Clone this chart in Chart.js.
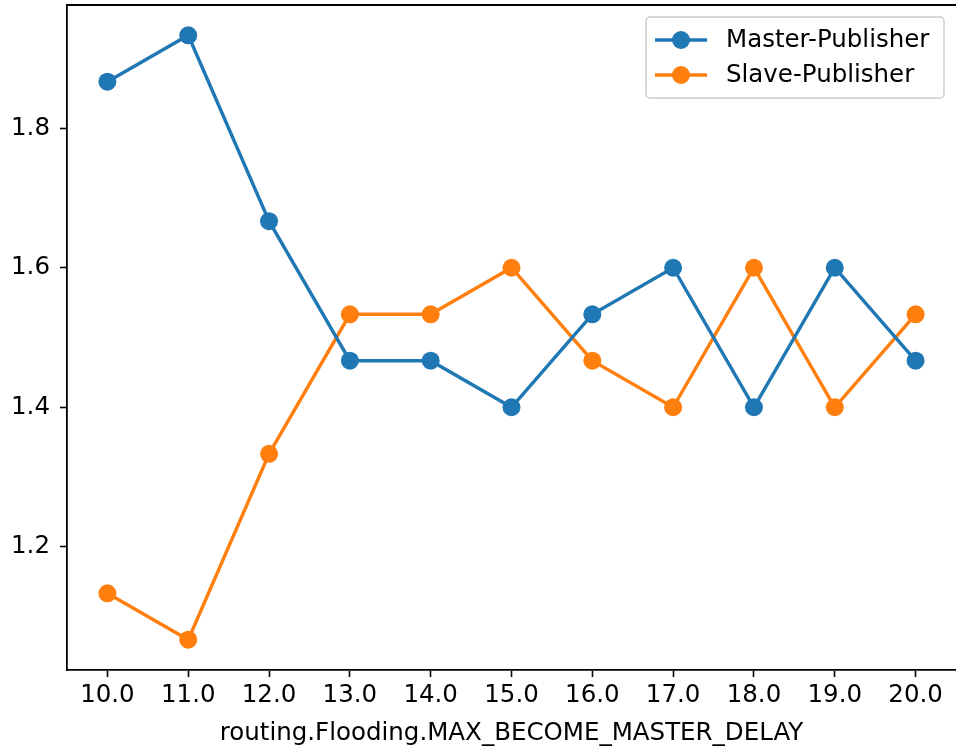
<!DOCTYPE html>
<html><head><meta charset="utf-8">
<script src="https://cdn.jsdelivr.net/npm/chart.js@4/dist/chart.umd.min.js"></script>
<style>html,body{margin:0;padding:0;background:#fff}#wrap{width:956px;height:748px;overflow:hidden}</style>
</head><body><div id="wrap"><canvas id="c" width="956" height="748"></canvas></div>
<script>
const xValues = [10, 11, 12, 13, 14, 15, 16, 17, 18, 19, 20];
const masterPublisher = [1.8667, 1.9333, 1.6667, 1.4667, 1.4667, 1.4, 1.5333, 1.6, 1.4, 1.6, 1.4667];
const slavePublisher = [1.1333, 1.0667, 1.3333, 1.5333, 1.5333, 1.6, 1.4667, 1.4, 1.6, 1.4, 1.5333];
const yTicks = [1.2, 1.4, 1.6, 1.8];
const seriesNames = ['Master-Publisher', 'Slave-Publisher'];
const xTitle = 'routing.Flooding.MAX_BECOME_MASTER_DELAY';

const FONT = "'DejaVu Sans', sans-serif";
const FS = 24.5;
const LW = 3.4, PR = 9;
const toPts = arr => arr.map((v, i) => ({x: xValues[i], y: v}));

const frame = {
  id: 'frame',
  afterDatasetsDraw(chart) {
    const {ctx, chartArea: a} = chart;
    ctx.save();
    ctx.strokeStyle = '#000'; ctx.lineWidth = 1.8;
    ctx.beginPath(); ctx.moveTo(a.left, a.top); ctx.lineTo(chart.width + 2, a.top); ctx.stroke();
    ctx.restore();
  },
  afterDraw(chart) {
    const ctx = chart.ctx;
    const x0 = 646, y0 = 17, w = 298, h = 81;
    ctx.save();
    ctx.beginPath();
    ctx.roundRect(x0, y0, w, h, 4);
    ctx.fillStyle = 'rgba(255,255,255,0.8)'; ctx.fill();
    ctx.strokeStyle = '#cccccc'; ctx.lineWidth = 1.5; ctx.stroke();
    chart.data.datasets.forEach((ds, i) => {
      const cy = 40 + i * 35;
      ctx.strokeStyle = ds.borderColor; ctx.lineWidth = LW;
      ctx.beginPath(); ctx.moveTo(655, cy); ctx.lineTo(707, cy); ctx.stroke();
      ctx.fillStyle = ds.borderColor;
      ctx.beginPath(); ctx.arc(681, cy, PR, 0, Math.PI * 2); ctx.fill();
      ctx.fillStyle = '#000'; ctx.font = FS + 'px ' + FONT;
      ctx.textBaseline = 'middle'; ctx.textAlign = 'left';
      ctx.fillText(ds.label, 726, cy + 1);
    });
    ctx.restore();
  }
};

new Chart(document.getElementById('c'), {
  type: 'line',
  data: {
    datasets: [
      {label: seriesNames[0], data: toPts(masterPublisher), borderColor: '#1f77b4', backgroundColor: '#1f77b4',
       borderWidth: LW, pointRadius: PR, pointHoverRadius: PR, pointBorderWidth: 0, tension: 0, clip: false},
      {label: seriesNames[1], data: toPts(slavePublisher), borderColor: '#ff7f0e', backgroundColor: '#ff7f0e',
       borderWidth: LW, pointRadius: PR, pointHoverRadius: PR, pointBorderWidth: 0, tension: 0, clip: false}
    ]
  },
  options: {
    responsive: false, animation: false, devicePixelRatio: 1,
    layout: {autoPadding: false, padding: {left: 0, right: 0, top: 5, bottom: 0}},
    plugins: {legend: {display: false}, tooltip: {enabled: false}},
    scales: {
      x: {
        type: 'linear', min: 9.5, max: 20.5,
        afterBuildTicks: s => { s.ticks = xValues.map(v => ({value: v})); },
        afterFit: s => { s.height = 78; s.paddingLeft = 0; s.paddingRight = 0; },
        ticks: {color: '#000', font: {family: FONT, size: FS}, padding: 4, maxRotation: 0,
                callback: v => Number(v).toFixed(1)},
        grid: {drawOnChartArea: false, drawTicks: true, tickLength: 7, tickColor: '#000', tickWidth: 1.6},
        border: {display: true, color: '#000', width: 1.8},
        title: {display: true, text: xTitle, color: '#000', font: {family: FONT, size: FS}, padding: {top: 2, bottom: 0}}
      },
      y: {
        type: 'linear', min: 1.0233, max: 1.9767,
        afterBuildTicks: s => { s.ticks = yTicks.map(v => ({value: v})); },
        afterFit: s => { s.width = 67; s.paddingTop = 0; s.paddingBottom = 0; },
        ticks: {color: '#000', font: {family: FONT, size: FS}, padding: 10,
                callback: v => Number(v).toFixed(1)},
        grid: {drawOnChartArea: false, drawTicks: true, tickLength: 7, tickColor: '#000', tickWidth: 1.6},
        border: {display: true, color: '#000', width: 1.8}
      }
    }
  },
  plugins: [frame]
});
</script>
</body></html>
